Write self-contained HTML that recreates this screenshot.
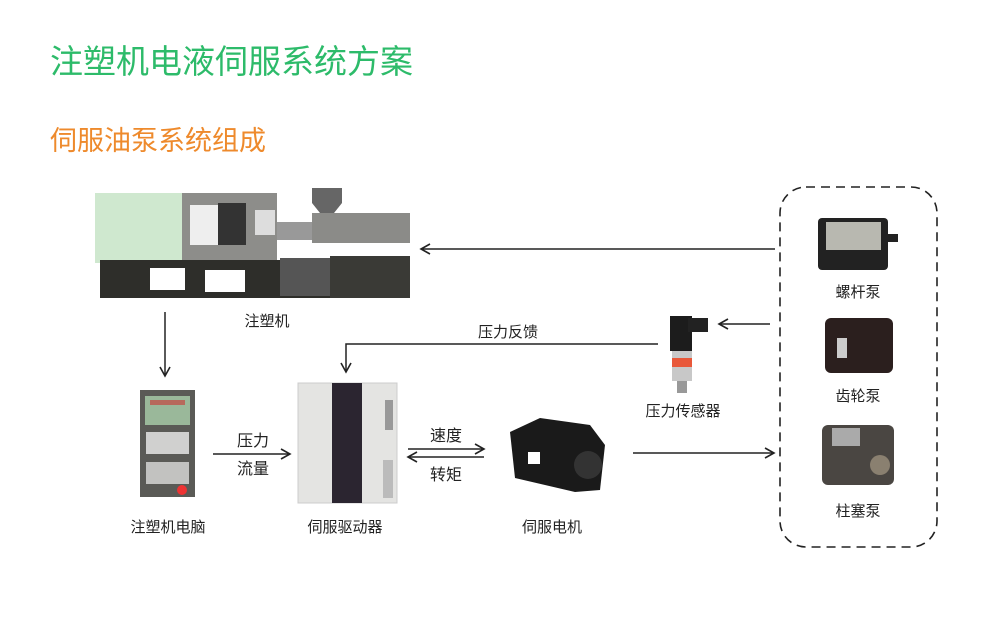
<!DOCTYPE html>
<html><head><meta charset="utf-8"><style>
html,body{margin:0;padding:0;background:#fff;}
svg{display:block;}
text{font-family:"Liberation Sans","Noto Sans CJK SC",sans-serif;}
</style></head><body>
<svg width="1000" height="618" viewBox="0 0 1000 618" xmlns="http://www.w3.org/2000/svg">
<defs>
<marker id="ah" markerWidth="12" markerHeight="12" refX="10" refY="6" orient="auto" markerUnits="userSpaceOnUse">
<path d="M1,1 L10,6 L1,11" fill="none" stroke="#222" stroke-width="1.6"/>
</marker>
</defs>
<text x="50" y="73" font-size="33" fill="#2dbb6a">注塑机电液伺服系统方案</text>
<text x="50" y="150" font-size="27" fill="#ee8a2c">伺服油泵系统组成</text>

<!-- injection machine -->
<g>
<rect x="95" y="193" width="87" height="70" fill="#cfe8cf"/>
<rect x="182" y="193" width="95" height="70" fill="#8d8d8a"/>
<rect x="190" y="205" width="30" height="40" fill="#eee"/>
<rect x="218" y="203" width="28" height="42" fill="#333"/>
<rect x="255" y="210" width="20" height="25" fill="#ddd"/>
<rect x="277" y="222" width="45" height="18" fill="#999"/>
<rect x="312" y="213" width="98" height="30" fill="#8b8b88"/>
<path d="M312,188 h30 v15 l-8,10 h-14 l-8,-10z" fill="#666"/>
<rect x="100" y="260" width="310" height="38" fill="#2e2e2a"/>
<rect x="150" y="268" width="35" height="22" fill="#fff"/>
<rect x="205" y="270" width="40" height="22" fill="#fff"/>
<rect x="280" y="258" width="50" height="38" fill="#555"/>
<rect x="330" y="256" width="80" height="42" fill="#3a3a36"/>
</g>
<text x="267" y="326" font-size="15" fill="#222" text-anchor="middle">注塑机</text>

<!-- arrows -->
<line x1="775" y1="249" x2="421" y2="249" stroke="#222" stroke-width="1.5" marker-end="url(#ah)"/>
<line x1="165" y1="312" x2="165" y2="376" stroke="#222" stroke-width="1.5" marker-end="url(#ah)"/>
<polyline points="658,344 346,344 346,372" fill="none" stroke="#222" stroke-width="1.5" marker-end="url(#ah)"/>
<text x="508" y="337" font-size="15" fill="#222" text-anchor="middle">压力反馈</text>
<line x1="770" y1="324" x2="719" y2="324" stroke="#222" stroke-width="1.5" marker-end="url(#ah)"/>
<line x1="213" y1="454" x2="290" y2="454" stroke="#222" stroke-width="1.5" marker-end="url(#ah)"/>
<text x="253" y="446" font-size="16" fill="#222" text-anchor="middle">压力</text>
<text x="253" y="474" font-size="16" fill="#222" text-anchor="middle">流量</text>
<line x1="408" y1="449" x2="484" y2="449" stroke="#222" stroke-width="1.5" marker-end="url(#ah)"/>
<line x1="484" y1="457" x2="408" y2="457" stroke="#222" stroke-width="1.5" marker-end="url(#ah)"/>
<text x="446" y="441" font-size="16" fill="#222" text-anchor="middle">速度</text>
<text x="446" y="480" font-size="16" fill="#222" text-anchor="middle">转矩</text>
<line x1="633" y1="453" x2="774" y2="453" stroke="#222" stroke-width="1.5" marker-end="url(#ah)"/>

<!-- controller -->
<rect x="140" y="390" width="55" height="107" fill="#5a5a56"/>
<rect x="145" y="396" width="45" height="29" fill="#9ab89a"/>
<rect x="150" y="400" width="35" height="5" fill="#c33" opacity=".6"/>
<g fill="#eee">
<rect x="146" y="432" width="43" height="22" opacity=".8"/>
<rect x="146" y="462" width="43" height="22" opacity=".7"/>
</g>
<circle cx="182" cy="490" r="5" fill="#e33"/>
<text x="168" y="532" font-size="15" fill="#222" text-anchor="middle">注塑机电脑</text>

<!-- drive -->
<rect x="298" y="383" width="99" height="120" fill="#e4e4e2" stroke="#ccc"/>
<rect x="332" y="383" width="30" height="120" fill="#2b2530"/>
<rect x="385" y="400" width="8" height="30" fill="#999"/>
<rect x="383" y="460" width="10" height="38" fill="#bbb"/>
<text x="345" y="532" font-size="15" fill="#222" text-anchor="middle">伺服驱动器</text>

<!-- motor -->
<path d="M510,432 L540,418 L590,425 L605,445 L600,490 L575,492 L515,478 Z" fill="#1a1a1a"/>
<rect x="528" y="452" width="12" height="12" fill="#fff"/>
<circle cx="588" cy="465" r="14" fill="#333"/>
<text x="552" y="532" font-size="15" fill="#222" text-anchor="middle">伺服电机</text>

<!-- sensor -->
<rect x="670" y="316" width="22" height="35" fill="#1c1c1c"/>
<rect x="688" y="318" width="20" height="14" fill="#222"/>
<rect x="672" y="351" width="20" height="30" fill="#c8c8c8"/>
<rect x="672" y="358" width="20" height="9" fill="#e8583a"/>
<rect x="677" y="381" width="10" height="12" fill="#999"/>
<text x="683" y="416" font-size="15" fill="#222" text-anchor="middle">压力传感器</text>

<!-- dashed box -->
<rect x="780" y="187" width="157" height="360" rx="26" fill="none" stroke="#222" stroke-width="1.6" stroke-dasharray="9,6"/>
<rect x="818" y="218" width="70" height="52" rx="4" fill="#222"/>
<rect x="826" y="222" width="55" height="28" fill="#b8b8b0"/>
<rect x="888" y="234" width="10" height="8" fill="#222"/>
<text x="858" y="297" font-size="15" fill="#222" text-anchor="middle">螺杆泵</text>
<rect x="825" y="318" width="68" height="55" rx="6" fill="#2b1f1e"/>
<rect x="837" y="338" width="10" height="20" fill="#ccc"/>
<text x="858" y="401" font-size="15" fill="#222" text-anchor="middle">齿轮泵</text>
<rect x="822" y="425" width="72" height="60" rx="6" fill="#4a4642"/>
<circle cx="880" cy="465" r="10" fill="#8a8070"/>
<rect x="832" y="428" width="28" height="18" fill="#aaa"/>
<text x="858" y="516" font-size="15" fill="#222" text-anchor="middle">柱塞泵</text>
</svg>
</body></html>
